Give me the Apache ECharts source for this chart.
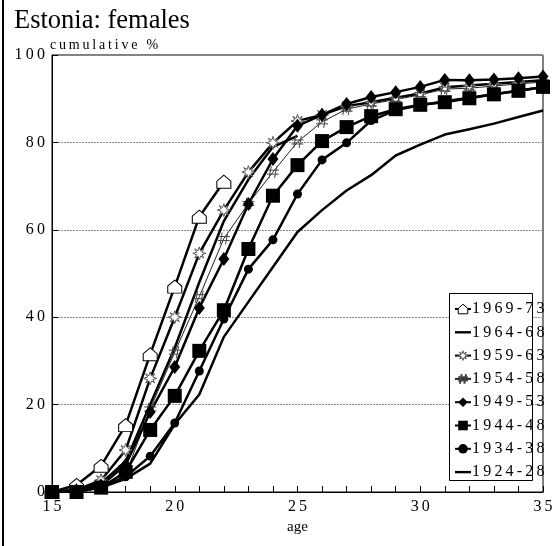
<!DOCTYPE html>
<html>
<head>
<meta charset="utf-8">
<script src="https://cdn.jsdelivr.net/npm/echarts@6/dist/echarts.min.js"></script>
<style>
html,body{margin:0;padding:0;background:#fff;}
#chart{width:557px;height:546px;}
</style>
</head>
<body>
<div id="chart"></div>
<script>
// ages 15..35, each cohort runs as far as it has data
var ages = [15,16,17,18,19,20,21,22,23,24,25,26,27,28,29,30,31,32,33,34,35];
var cohorts = ['1969-73','1964-68','1959-63','1954-58','1949-53','1944-48','1934-38','1924-28'];

var c1969 = [0, 1.6, 6, 15.3, 31.5, 47, 63, 71];
var c1964 = [0, 0.5, 2, 7, 20, 33, 48, 62, 71.5, 79, 81.5];
var c1959 = [0, 0.5, 2.7, 9.6, 26, 40, 54.6, 64.5, 73.2, 79.9, 84.9, 86.3, 88.3, 89.2, 90.2, 91.2, 92.6, 93, 93.4, 93.8, 94.2];
var c1954 = [0, 0.3, 1.5, 4, 19, 32, 44.7, 58, 66, 73.2, 80.1, 84.7, 87.6, 88.8, 89.8, 90.9, 92.2, 92.4, 92.9, 93.4, 93.8];
var c1949 = [0, 0.3, 1.5, 6.2, 18.3, 28.6, 42.1, 53.3, 65.9, 76.2, 83.8, 86.3, 88.8, 90.4, 91.5, 92.7, 94.3, 94.2, 94.4, 94.7, 95.1];
var c1944 = [0, 0, 1, 4.6, 14.2, 22, 32.3, 41.6, 55.6, 67.8, 74.8, 80.3, 83.5, 86, 87.6, 88.6, 89.2, 90.1, 91, 91.8, 92.7];
var c1934 = [0, 0.2, 1, 3.5, 8.2, 15.8, 27.7, 39.6, 51, 57.7, 68.2, 76, 79.9, 85, 87.4, 88.5, 89.4, 90.2, 91, 91.8, 92.6];
var c1924 = [0, 0.3, 1, 3, 6.5, 15.5, 22.3, 35.5, 43.5, 51.5, 59.5, 64.5, 69, 72.5, 77, 79.5, 81.8, 83, 84.3, 85.8, 87.3];

var xTicks = [15,20,25,30,35];
var yTicks = [0,20,40,60,80,100];

var FONT = 'Liberation Serif';
function spaced(s){ return String(s).split('').join('\u2009'); }
function pairs(vals){ return vals.map(function(v,i){ return [ages[i], v]; }); }

var houseSym = 'path://M0,11 L0,5 L6,0 L12,5 L12,11 Z';
var starSym = 'path://M10,0 L12,6 L17,3 L14,8 L20,10 L14,12 L17,17 L12,14 L10,20 L8,14 L3,17 L6,12 L0,10 L6,8 L3,3 L8,6 Z';
var hashSym = 'path://M4,0 L2,12 M9,0 L7,12 M0,4 L11,4 M0,8 L11,8';
// plain line icon for the cohorts drawn without markers (moveTo points fix the box to 16x12)
var lineIcon = 'path://M0,0 M16,12 M0,4.8 L16,4.8 L16,7.2 L0,7.2 Z';

function mk(name, vals, opt){
    var s = {
        name: name,
        type: 'line',
        data: pairs(vals),
        symbol: opt.symbol || 'none',
        symbolSize: opt.size || 8,
        showSymbol: !!opt.symbol,
        lineStyle: {color: opt.lineColor || '#000', width: opt.width || 2.5},
        itemStyle: {color: opt.fill || '#000', borderColor: opt.stroke || '#000', borderWidth: opt.bw || 0},
        emphasis: {disabled: true},
        animation: false
    };
    return s;
}

var series = [
    mk(cohorts[0], c1969, {symbol: houseSym, size: [14,13], fill: '#fff', stroke: '#000', bw: 1}),
    mk(cohorts[1], c1964, {}),
    mk(cohorts[2], c1959, {symbol: starSym, size: 13, fill: '#fff', stroke: '#555', bw: 1}),
    mk(cohorts[3], c1954, {symbol: hashSym, size: 12, fill: 'none', stroke: '#444', bw: 1, width: 1, lineColor: '#222'}),
    mk(cohorts[4], c1949, {symbol: 'diamond', size: [11,14]}),
    mk(cohorts[5], c1944, {symbol: 'rect', size: 14}),
    mk(cohorts[6], c1934, {symbol: 'circle', size: 9}),
    mk(cohorts[7], c1924, {})
];

var legendData = cohorts.map(function(n, i){
    if (i === 1 || i === 7) return {name: n, icon: lineIcon, itemStyle: {color: '#000', borderWidth: 0}};
    if (i === 0) return {name: n, itemStyle: {color: '#fff', borderColor: '#000', borderWidth: 1}};
    if (i === 2) return {name: n, itemStyle: {color: '#fff', borderColor: '#555', borderWidth: 1}};
    return {name: n};
});

var chart = echarts.init(document.getElementById('chart'), null, {renderer: 'canvas'});
chart.setOption({
    backgroundColor: '#fff',
    animation: false,
    textStyle: {fontFamily: FONT, color: '#000'},
    title: {
        text: 'Estonia: females',
        left: 9, top: 3,
        textStyle: {fontFamily: FONT, fontSize: 26.5, fontWeight: 'normal', color: '#000'}
    },
    grid: {left: 52, right: 14, top: 55, bottom: 54, show: true, borderColor: '#000', borderWidth: 1, backgroundColor: 'transparent'},
    xAxis: {
        type: 'value', min: 15, max: 35, interval: 1,
        name: 'age', nameLocation: 'middle', nameGap: 23,
        nameTextStyle: {fontFamily: FONT, fontSize: 15, color: '#000'},
        axisLine: {lineStyle: {color: '#000', width: 1}},
        axisTick: {inside: true, length: 6, lineStyle: {color: '#000'}},
        axisLabel: {
            fontFamily: FONT, fontSize: 16, color: '#000', margin: 7,
            formatter: function(v){ return xTicks.indexOf(v) >= 0 ? spaced(v) : ''; }
        },
        splitLine: {show: false}
    },
    yAxis: {
        type: 'value', min: 0, max: 100, interval: 20,
        name: spaced('cumulative %'), nameLocation: 'end', nameGap: 3,
        nameMoveOverlap: false,
        nameTextStyle: {fontFamily: FONT, fontSize: 14, color: '#000', align: 'left', padding: [0,0,0,-2]},
        axisLine: {show: true, lineStyle: {color: '#000', width: 1}},
        axisTick: {show: true, inside: true, length: 6, lineStyle: {color: '#000'}},
        axisLabel: {
            fontFamily: FONT, fontSize: 16, color: '#000', margin: 7,
            formatter: function(v){ return yTicks.indexOf(v) >= 0 ? spaced(v) : ''; }
        },
        splitLine: {show: true, lineStyle: {color: '#888', type: [2,1], width: 1}}
    },
    legend: {
        orient: 'vertical', left: 454, top: 301, z: 5,
        data: legendData,
        itemWidth: 16, itemHeight: 12, itemGap: 7.3,
        padding: 0,
        selectedMode: false,
        textStyle: {fontFamily: FONT, fontSize: 16, color: '#000', padding: [0,0,0,-4]},
        formatter: function(n){ return spaced(n); }
    },
    graphic: [
        {type: 'rect', left: 449, top: 293, z: 1, shape: {width: 83, height: 187},
         style: {fill: '#fff', stroke: '#000', lineWidth: 1}},
        {type: 'line', shape: {x1: 3, y1: 0, x2: 3, y2: 546}, style: {stroke: '#000', lineWidth: 2}}
    ],
    series: series
});
</script>
</body>
</html>
